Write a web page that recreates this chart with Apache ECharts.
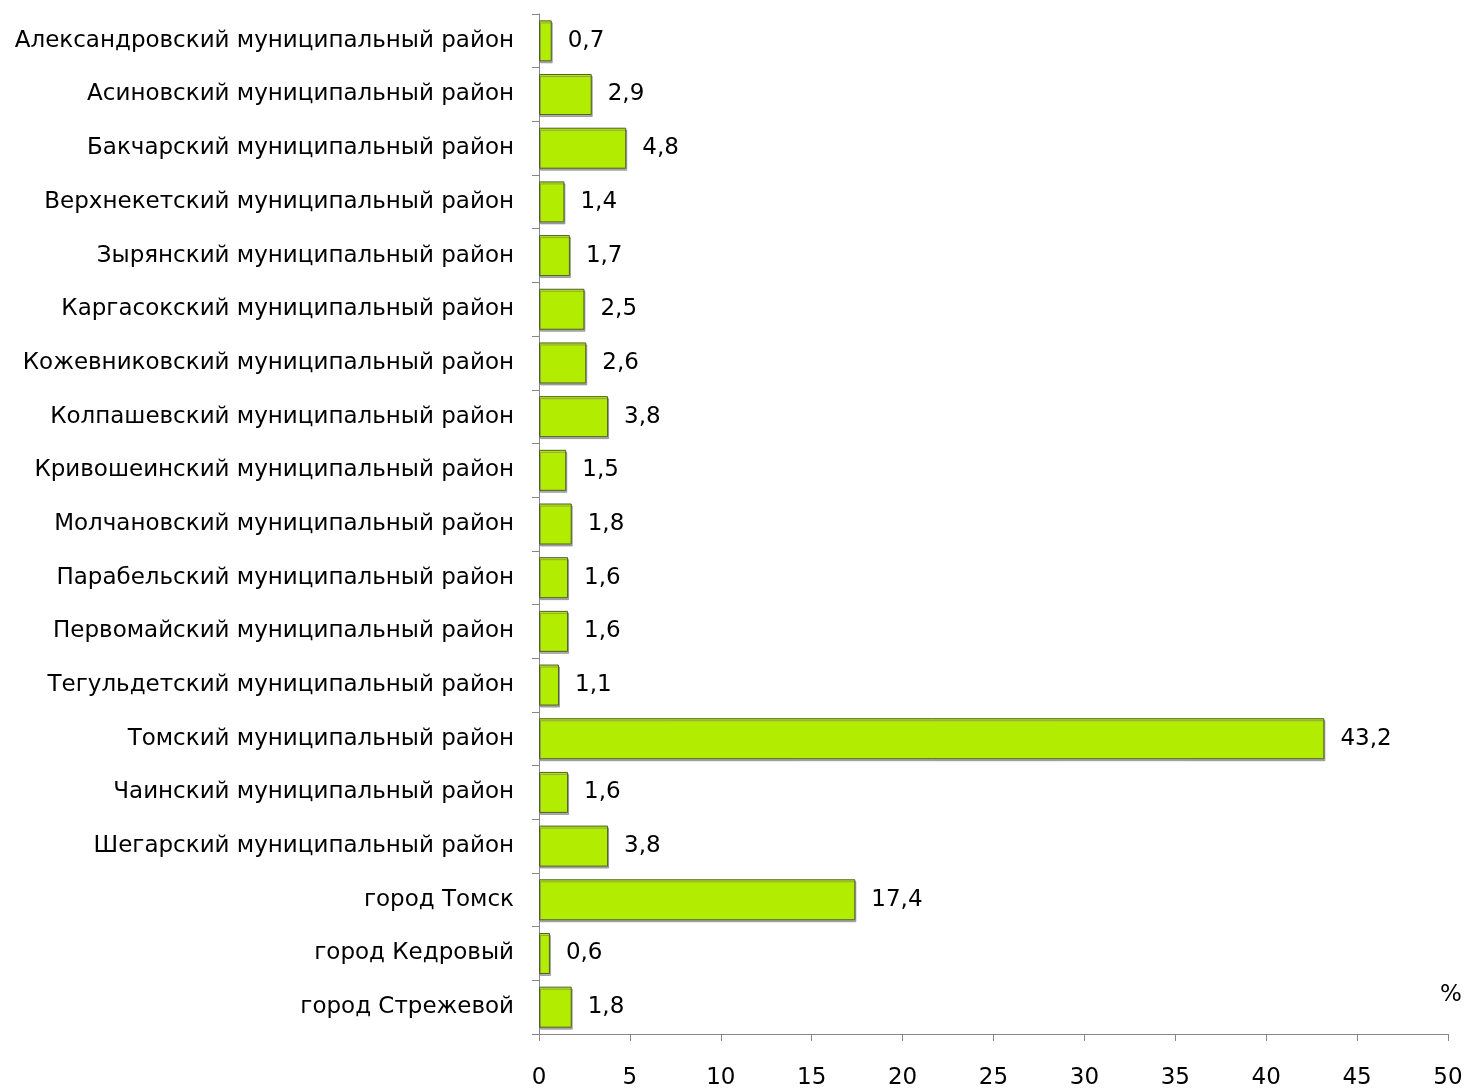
<!DOCTYPE html>
<html><head><meta charset="utf-8">
<script src="https://cdn.jsdelivr.net/npm/echarts@6/dist/echarts.min.js"></script>
<style>html,body{margin:0;padding:0;background:#fff}#c{width:1467px;height:1088px}</style>
</head><body><div id="c"></div>
<script>
const categories = [
  "Александровский муниципальный район",
  "Асиновский муниципальный район",
  "Бакчарский муниципальный район",
  "Верхнекетский муниципальный район",
  "Зырянский муниципальный район",
  "Каргасокский муниципальный район",
  "Кожевниковский муниципальный район",
  "Колпашевский муниципальный район",
  "Кривошеинский муниципальный район",
  "Молчановский муниципальный район",
  "Парабельский муниципальный район",
  "Первомайский муниципальный район",
  "Тегульдетский муниципальный район",
  "Томский муниципальный район",
  "Чаинский муниципальный район",
  "Шегарский муниципальный район",
  "город Томск",
  "город Кедровый",
  "город Стрежевой"
];
const values = [0.7, 2.9, 4.8, 1.4, 1.7, 2.5, 2.6, 3.8, 1.5, 1.8, 1.6, 1.6, 1.1, 43.2, 1.6, 3.8, 17.4, 0.6, 1.8];
const xTicks = [0, 5, 10, 15, 20, 25, 30, 35, 40, 45, 50];
const unitLabel = "%";

const font = "DejaVu Sans, sans-serif";
const chart = echarts.init(document.getElementById('c'), null, {renderer: 'canvas'});
chart.setOption({
  animation: false,
  backgroundColor: '#fff',
  grid: {left: 539, right: 19, top: 14, bottom: 54, containLabel: false, outerBoundsMode: 'none'},
  graphic: [{type: 'text', left: 1440, top: 984, style: {text: unitLabel, font: '23px ' + font, fill: '#000'}}],
  xAxis: {
    type: 'value', min: xTicks[0], max: xTicks[xTicks.length - 1], interval: 5,
    axisLine: {show: true, lineStyle: {color: '#868686', width: 1}},
    axisTick: {show: true, length: 7, lineStyle: {color: '#868686'}},
    splitLine: {show: false},
    axisLabel: {margin: 33, fontSize: 23, fontFamily: font, color: '#000'}
  },
  yAxis: {
    type: 'category', data: categories, inverse: true,
    axisLine: {show: true, lineStyle: {color: '#868686', width: 1}},
    axisTick: {show: true, length: 7, lineStyle: {color: '#868686'}},
    axisLabel: {margin: 25, fontSize: 23, fontFamily: font, color: '#000'}
  },
  series: [{
    type: 'bar', data: values, barWidth: 41,
    itemStyle: {color: '#b2ec00', borderColor: '#4f5e2c', borderWidth: 1,
      shadowColor: 'rgba(120,120,120,0.6)', shadowOffsetX: 1, shadowOffsetY: 2, shadowBlur: 0},
    label: {show: true, position: 'right', distance: 16, fontSize: 23, fontFamily: font, color: '#000',
      formatter: p => String(p.value).replace('.', ',')}
  }]
});
</script></body></html>
